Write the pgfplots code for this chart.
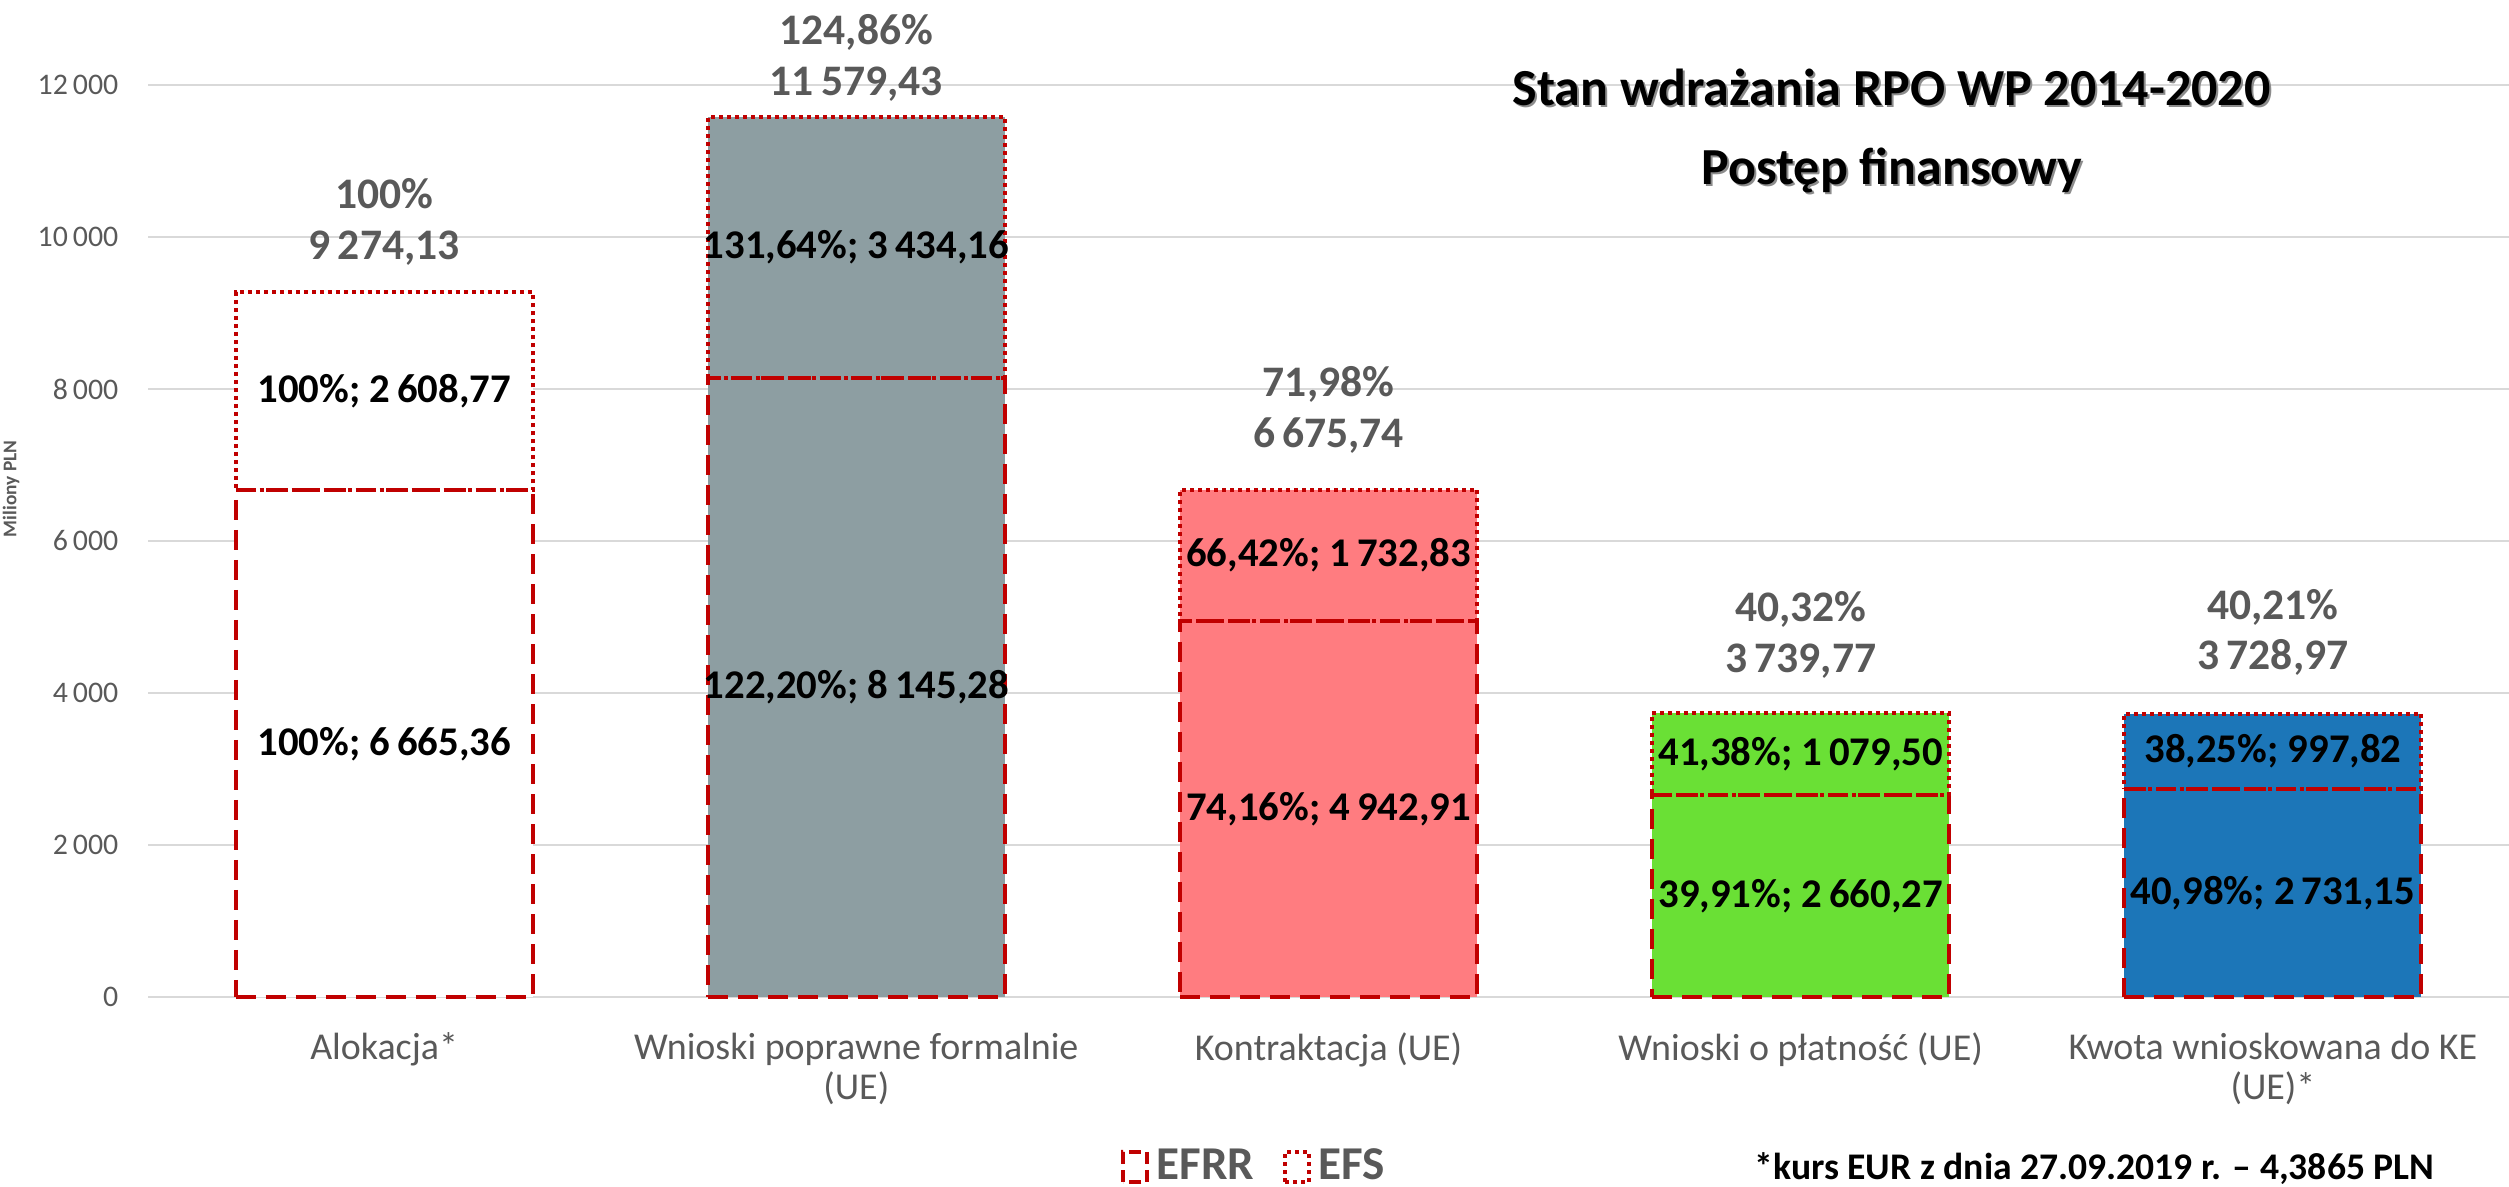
\documentclass[border=0pt]{standalone}
\usepackage{fontspec}
\setmainfont{Carlito}
\usepackage{pgfplots}
\usepackage{pgfplotstable}
\pgfplotsset{compat=1.18}
\definecolor{gridc}{HTML}{D9D9D9}
\definecolor{txtg}{HTML}{595959}
\definecolor{redl}{HTML}{C00000}
\definecolor{cgray}{HTML}{8D9EA2}
\definecolor{cpink}{HTML}{FF7C80}
\definecolor{cgreen}{HTML}{6AE035}
\definecolor{cblue}{HTML}{1C76B8}
\pgfplotstableread{
x efrr efs
0 6665.36 2608.77
1 8145.28 3434.16
2 4942.91 1732.83
3 2660.27 1079.50
4 2731.15 997.82
}\data
\newcommand\lrlab[1]{\ifcase#1 100\%; 6\,665,36\or 122,20\%; 8\,145,28\or 74,16\%; 4\,942,91\or 39,91\%; 2\,660,27\or 40,98\%; 2\,731,15\fi}
\newcommand\lslab[1]{\ifcase#1 100\%; 2\,608,77\or 131,64\%; 3\,434,16\or 66,42\%; 1\,732,83\or 41,38\%; 1\,079,50\or 38,25\%; 997,82\fi}
\pgfplotsset{
  base/.style={
    at={(14.8mm,19mm)}, anchor=south west,
    scale only axis, width=236.1mm, height=91.2mm,
    xmin=-0.5, xmax=4.5, ymin=0, ymax=12000,
    clip=false,
  },
  toplab/.style={nodes near coords={#1},
    every node near coord/.append style={anchor=south, align=center, inner sep=0pt,
      text=txtg, font=\fontsize{12.4}{14.5}\selectfont\bfseries}},
}
\begin{document}
\begin{tikzpicture}[x=1mm,y=1mm]
\useasboundingbox (0,0) rectangle (250.9,118.7);
\begin{axis}[base, ybar, bar width=29.7mm, bar shift=0pt,
  axis line style={draw=none},
  major tick length=0pt,
  ymajorgrids, grid style={gridc, line width=0.25mm},
  ytick={0,2000,...,12000},
  xtick={0,1,2,3,4},
  xticklabels={Alokacja*, {Wnioski poprawne formalnie\\(UE)}, Kontraktacja (UE), Wnioski o płatność (UE), {Kwota wnioskowana do KE\\(UE)*}},
  xticklabel style={align=center, font=\fontsize{10.8}{11.4}\selectfont, text=txtg, anchor=north, inner sep=0pt},
  xticklabel shift=3.5mm,
  yticklabel style={font=\fontsize{8.5}{10}\selectfont, text=txtg, anchor=east, inner sep=0pt},
  yticklabel shift=2.9mm,
  /pgf/number format/assume math mode=true,
  /pgf/number format/1000 sep={\,},
  scaled y ticks=false,
]
\addplot[fill=white, draw=none, toplab={100\%\\9\,274,13}, every node near coord/.append style={yshift=2.6mm}] coordinates {(0,9274.13)};
\addplot[fill=cgray, draw=none, toplab={124,86\%\\11\,579,43}, every node near coord/.append style={yshift=1.5mm}] coordinates {(1,11579.43)};
\addplot[fill=cpink, draw=none, toplab={71,98\%\\6\,675,74}, every node near coord/.append style={yshift=3.6mm}] coordinates {(2,6675.74)};
\addplot[fill=cgreen, draw=none, toplab={40,32\%\\3\,739,77}, every node near coord/.append style={yshift=3.4mm}] coordinates {(3,3739.77)};
\addplot[fill=cblue, draw=none, toplab={40,21\%\\3\,728,97}, every node near coord/.append style={yshift=3.7mm}] coordinates {(4,3728.97)};
\end{axis}
\begin{axis}[base, ybar stacked, bar width=29.7mm, hide axis,
  xtick=\empty, ytick=\empty,
  legend style={at={(axis description cs:0.412,-0.1864)}, anchor=west, draw=none, fill=none,
    inner sep=0pt, font=\fontsize{13.4}{16}\selectfont\bfseries, text=txtg,
    /tikz/every even column/.append style={column sep=2.2mm}},
  legend columns=2,
]
\addplot[fill=none, draw=redl, line width=0.4mm, dash pattern=on 2mm off 1mm,
  legend image code/.code={\draw[redl, line width=0.4mm, dash pattern=on 1.2mm off 0.6mm] (0mm,-1.5mm) rectangle (2.4mm,1.5mm);}]
  table[x=x, y=efrr] {\data};
\addlegendentry{EFRR}
\addplot[fill=none, draw=redl, line width=0.4mm, dash pattern=on 0.4mm off 0.4mm,
  legend image code/.code={\draw[redl, line width=0.4mm, dash pattern=on 0.4mm off 0.4mm] (0mm,-1.5mm) rectangle (2.4mm,1.5mm);}]
  table[x=x, y=efs] {\data};
\addlegendentry{EFS}
\end{axis}
\begin{axis}[base, hide axis, xtick=\empty, ytick=\empty,
  visualization depends on={\thisrow{x} \as \xv},
  every node near coord/.append style={anchor=center, inner sep=0pt, text=black,
    font=\fontsize{11.6}{12}\selectfont\bfseries},
]
\addplot[draw=none, mark=none, nodes near coords={\pgfmathtruncatemacro\k{\xv}\lrlab{\k}}]
  table[x=x, y expr=\thisrow{efrr}/2] {\data};
\addplot[draw=none, mark=none, nodes near coords={\pgfmathtruncatemacro\k{\xv}\lslab{\k}}]
  table[x=x, y expr=\thisrow{efrr}+\thisrow{efs}/2] {\data};
\end{axis}
\node[rotate=90, text=txtg, font=\fontsize{5.5}{6}\selectfont\bfseries] at (1.1,69.8) {Miliony PLN};
\node[anchor=base, text=black!45, font=\fontsize{14.8}{17}\selectfont\bfseries] at (189.35,107.9) {Stan wdrażania RPO WP 2014-2020};
\node[anchor=base, font=\fontsize{14.8}{17}\selectfont\bfseries] at (189.15,108.1) {Stan wdrażania RPO WP 2014-2020};
\node[anchor=base, text=black!45, font=\fontsize{14.8}{17}\selectfont\bfseries] at (189.4,100.0) {Postęp finansowy};
\node[anchor=base, font=\fontsize{14.8}{17}\selectfont\bfseries] at (189.2,100.2) {Postęp finansowy};
\node[anchor=base, font=\fontsize{10.7}{12}\selectfont\bfseries] at (209.45,0.7) {*kurs EUR z dnia 27.09.2019 r. – 4,3865 PLN};
\end{tikzpicture}
\end{document}
